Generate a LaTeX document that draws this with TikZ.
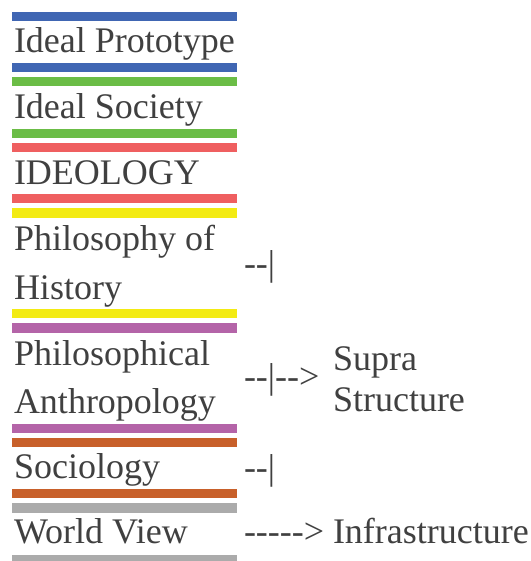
\documentclass[tikz,border=0pt]{standalone}
\usepackage{fontspec}
\newfontfamily\lib{Liberation Serif}
\definecolor{cblue}{HTML}{4066B3}
\definecolor{cgreen}{HTML}{6BBD46}
\definecolor{cred}{HTML}{EF5F60}
\definecolor{cyellow}{HTML}{F3EB13}
\definecolor{cpurple}{HTML}{B464A8}
\definecolor{corange}{HTML}{C8602A}
\definecolor{cgray}{HTML}{ABABAB}
\definecolor{ctext}{HTML}{404040}
\tikzset{
  lbl/.style={anchor=base west, inner sep=0pt, outer sep=0pt, text=ctext,
    font=\lib\fontsize{36}{43}\selectfont},
}
\newcommand{\mybar}[3]{\fill[#1] (12pt,-#2pt) rectangle (237pt,-#3pt);}
\begin{document}
\begin{tikzpicture}[x=1pt,y=1pt]
\useasboundingbox (0,0) rectangle (530,-561);
% bars
\mybar{cblue}{12}{21}
\mybar{cblue}{63.5}{72.5}
\mybar{cgreen}{77}{86.5}
\mybar{cgreen}{129}{138.5}
\mybar{cred}{143}{152}
\mybar{cred}{194}{203}
\mybar{cyellow}{208}{217.5}
\mybar{cyellow}{309}{318}
\mybar{cpurple}{323}{332.5}
\mybar{cpurple}{424}{433}
\mybar{corange}{438}{447}
\mybar{corange}{489}{498}
\mybar{cgray}{503}{512.5}
\mybar{cgray}{555}{561}
% left labels
\node[lbl] (proto) at (14,-53) {Ideal Prototype};
\node[lbl] (soc) at (14,-119) {Ideal Society};
\node[lbl] (ideo) at (14,-185) {IDEOLOGY};
\node[lbl] (hist1) at (14,-250) {Philosophy of};
\node[lbl] (hist2) at (14,-299) {History};
\node[lbl] (anth1) at (14,-365) {Philosophical};
\node[lbl] (anth2) at (14,-413) {Anthropology};
\node[lbl] (sociol) at (14,-478) {Sociology};
\node[lbl] (wv) at (14,-543) {World View};
% right labels
\node[lbl] (m1) at (244,-275) {--|};
\node[lbl] (m2) at (244,-388.5) {--|-->};
\node[lbl] (supra1) at (333,-370) {Supra};
\node[lbl] (supra2) at (333,-411) {Structure};
\node[lbl] (m3) at (244,-479) {--|};
\node[lbl] (m4) at (244,-543) {-----{}>};
\node[lbl] (infra) at (333,-543) {Infrastructure};
\end{tikzpicture}
\end{document}
